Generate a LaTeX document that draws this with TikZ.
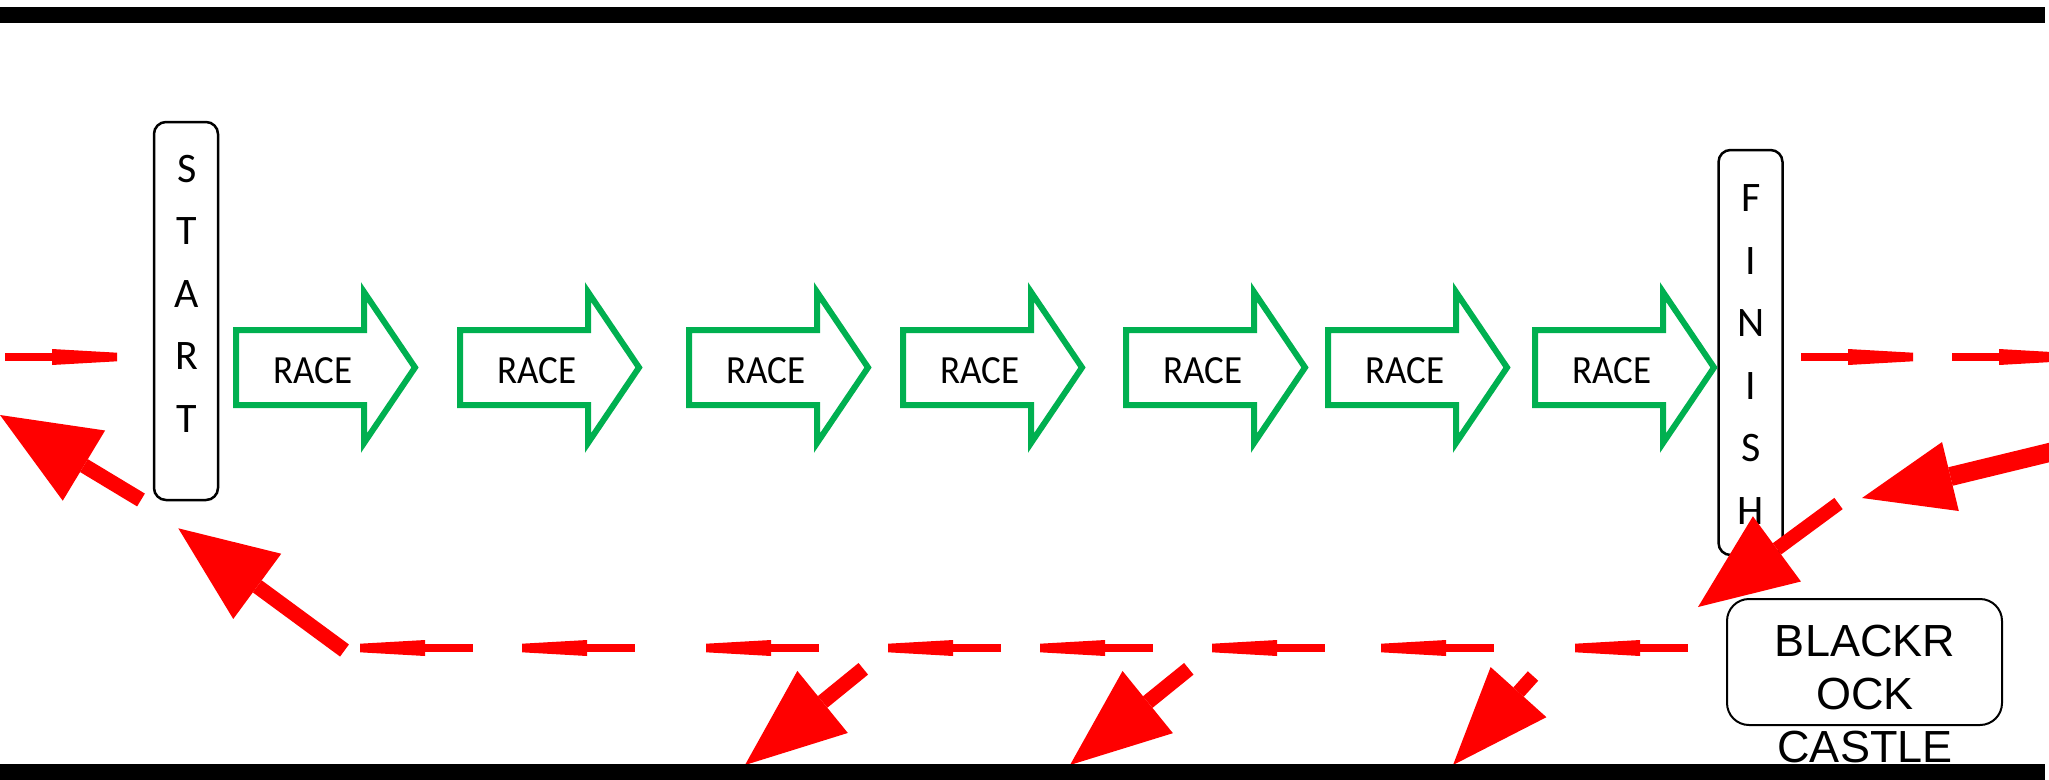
\documentclass[tikz,border=0pt]{standalone}
\usepackage{fontspec}
\setmainfont{Carlito}
\newfontfamily\arialfont{Liberation Sans}
\usepackage{graphicx}
\usetikzlibrary{arrows.meta}
\definecolor{racegreen}{HTML}{00B050}
\definecolor{rred}{HTML}{FF0000}
\tikzset{
  lettbox/.style={draw=black, line width=2.5pt, rounded corners=12pt, fill=white, inner sep=0pt},
  lettext/.style={font=\fontsize{42}{62.5}\selectfont, align=center, anchor=north, inner sep=0pt},
  raceshape/.style={draw=racegreen, line width=6pt, line join=miter, fill=white},
  racetext/.style={font=\fontsize{37}{40}\selectfont, anchor=base, inner sep=0pt},
  castlebox/.style={draw=black, line width=2pt, rounded corners=22pt, inner sep=0pt},
  castletext/.style={font=\arialfont\fontsize{45}{53}\selectfont, align=center, anchor=north, inner sep=0pt},
  bigred/.style n args={3}{draw=rred, line width=#1, -{Triangle[length=#2, width=#3, line width=0pt]}},
  dashR/.pic={
    \fill[rred] (0,-3.7) rectangle (48,3.7);
    \fill[rred] (47,-8) -- (112,-4.3) -- (112,4.3) -- (47,8) -- cycle;
  },
  dashL/.pic={
    \fill[rred] (0,-4.3) -- (65,-8) -- (65,8) -- (0,4.3) -- cycle;
    \fill[rred] (64,-3.7) rectangle (113,3.7);
  }
}
\begin{document}
\begin{tikzpicture}[x=1pt,y=-1pt]
\useasboundingbox (0,0) rectangle (2049,779);
\clip (0,0) rectangle (2049,779);
\fill[white] (0,0) rectangle (2049,779);

% red dashed arrows (top, pointing right)
\pic at (5,357) {dashR};
\pic at (1801,357) {dashR};
\pic at (1952,357) {dashR};
% red dashed arrows (bottom, pointing left)
\foreach \X in {360,522,706,888,1040,1212,1381,1575} {
  \pic at (\X,648) {dashL};
}

% START and FINISH posts
\node[lettbox, minimum width=64pt, minimum height=378pt] (start) at (186,311) {};
\node[lettext] (startlbl) at (187,155) {S\\T\\A\\R\\T};
\node[lettbox, minimum width=64pt, minimum height=405pt] (finish) at (1750.5,352.5) {};
\node[lettext] (finishlbl) at (1751,184.5) {F\\I\\N\\I\\S\\H};

% RACE arrows
\foreach \L [count=\i] in {233,457,686,900,1123,1325,1532} {
  \draw[raceshape] (\L+3,330) -- (\L+131,330) -- (\L+131,292) -- (\L+182,367.5)
     -- (\L+131,443) -- (\L+131,405) -- (\L+3,405) -- cycle;
  \node[racetext] (race\i) at (\L+80,383) {\scalebox{1}[1.08]{RACE}};
}

% Blackrock Castle
\node[castlebox, minimum width=275pt, minimum height=126pt] (castle) at (1864.5,662) {};
\node[castletext] (castlelbl) at (1865,625) {BLACKR\\OCK\\CASTLE};

% big red arrows
\coordinate (a1t) at (141,500);   \coordinate (a1h) at (0,415);
\coordinate (a2t) at (344.5,650.5); \coordinate (a2h) at (178.3,528.3);
\coordinate (a3t) at (2076,446);  \coordinate (a3h) at (1862,498);
\coordinate (a4t) at (1838.5,503.5); \coordinate (a4h) at (1698,607);
\coordinate (b1t) at (863.3,668.8); \coordinate (b1h) at (745,765);
\coordinate (b2t) at (1188.8,668.8); \coordinate (b2h) at (1070,765);
\coordinate (b3t) at (1533,676);  \coordinate (b3h) at (1453,765);
\draw[bigred={15pt}{98pt}{82pt}] (a1t) -- (a1h);
\draw[bigred={15pt}{98pt}{81pt}] (a2t) -- (a2h);
\draw[bigred={19pt}{91pt}{71pt}] (a3t) -- (a3h);
\draw[bigred={14pt}{98pt}{81pt}] (a4t) -- (a4h);
\draw[bigred={15pt}{100pt}{80pt}] (b1t) -- (b1h);
\draw[bigred={15pt}{100pt}{80pt}] (b2t) -- (b2h);
\draw[bigred={14pt}{98pt}{75pt}] (b3t) -- (b3h);

% black bars
\fill[black] (0,7) rectangle (2045,23);
\fill[black] (0,764) rectangle (2045,785);
\end{tikzpicture}
\end{document}
